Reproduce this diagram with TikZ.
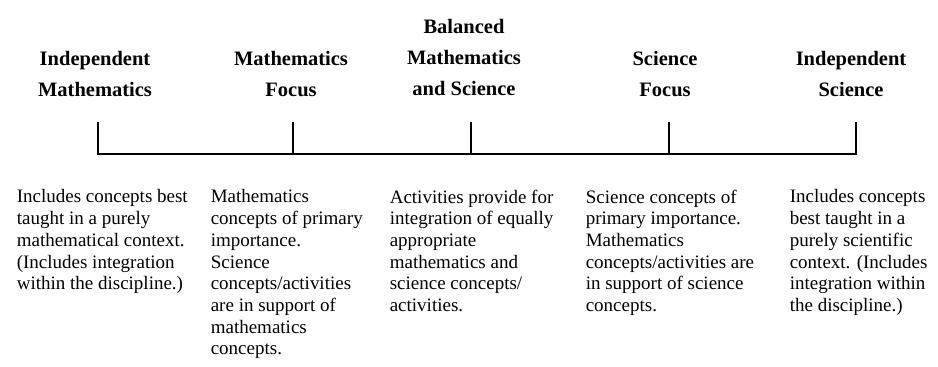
\documentclass[tikz,border=0pt]{standalone}
\usepackage{fontspec}
\setmainfont{Liberation Serif}
\begin{document}
\begin{tikzpicture}[x=1pt, y=-1pt, line width=1.6pt, line cap=rect]
\useasboundingbox (0,0) rectangle (938,367);
\tikzset{head/.style={font=\fontsize{20.5}{31}\selectfont\bfseries, align=center, anchor=north, inner sep=0pt},
  body/.style={font=\fontsize{19}{21.7}\selectfont, align=left, anchor=north west, inner sep=0pt}}
% scale with ticks
\foreach \x/\n in {98/a, 293/b, 471/c, 669/d, 856/e} {
  \coordinate (top\n) at (\x,123);
  \coordinate (bot\n) at (\x,154);
  \draw (top\n) -- (bot\n);
}
\draw (bota) -- (bote);
% headings
\node[head] (headIM) at (95,50) {Independent\\Mathematics};
\node[head] (headMF) at (291,50) {Mathematics\\Focus};
\node[head] (headBal) at (464,18) {Balanced\\Mathematics\\and Science};
\node[head] (headSF) at (665,50) {Science\\Focus};
\node[head] (headIS) at (851,50) {Independent\\Science};
% descriptions
\node[body] (textIM) at (16,189) {Includes concepts best\\taught in a purely\\mathematical context.\\(Includes integration\\within the discipline.)};
\node[body] (textMF) at (210,189) {Mathematics\\concepts of primary\\importance.\\Science\\concepts/activities\\are in support of\\mathematics\\concepts.};
\node[body] (textBal) at (389,189) {Activities provide for\\integration of equally\\appropriate\\mathematics and\\science concepts/\\activities.};
\node[body] (textSF) at (585,189) {Science concepts of\\primary importance.\\Mathematics\\concepts/activities are\\in support of science\\concepts.};
\node[body] (textIS) at (789,189) {Includes concepts\\best taught in a\\purely scientific\\context. (Includes\\integration within\\the discipline.)};
\end{tikzpicture}
\end{document}
